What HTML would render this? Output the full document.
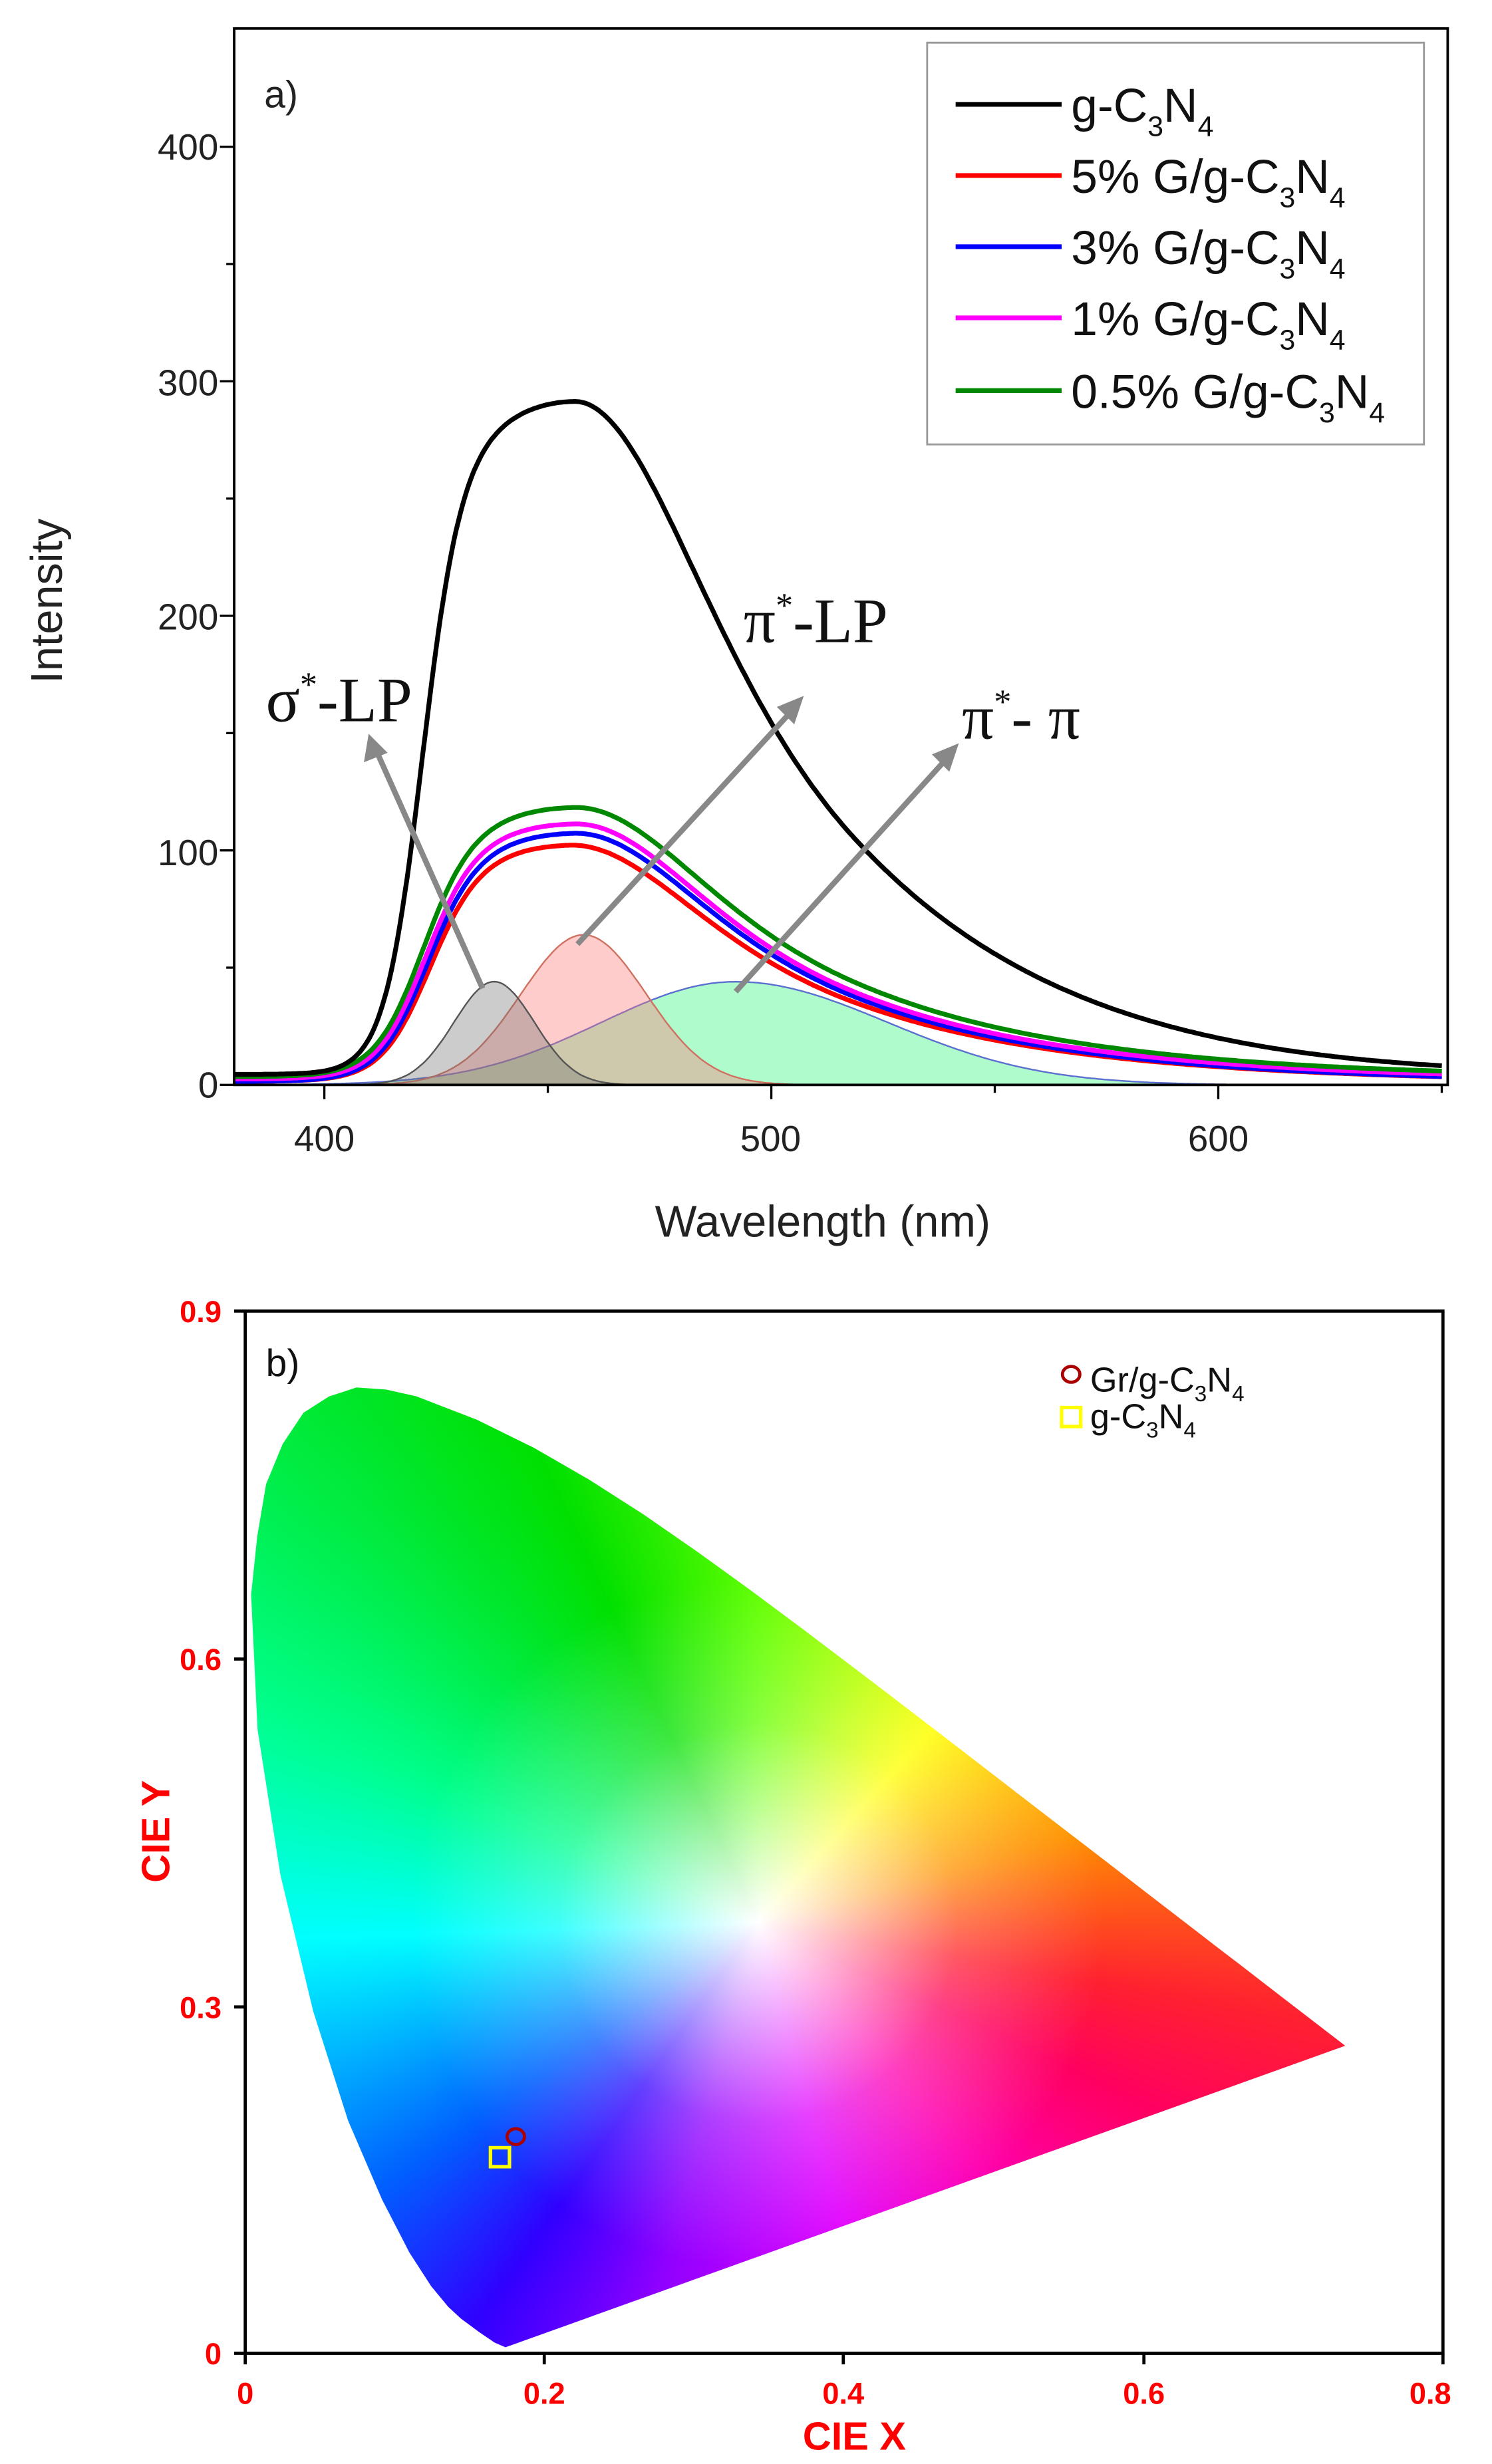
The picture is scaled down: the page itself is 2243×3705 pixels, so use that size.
<!DOCTYPE html>
<html><head><meta charset="utf-8">
<style>
html,body{margin:0;padding:0;background:#fff;}
#wrap{position:relative;width:2243px;height:3705px;overflow:hidden;background:#fff;}
#cie{position:absolute;left:368.7px;top:1971px;width:1800.6px;height:1567px;}
svg{position:absolute;left:0;top:0;}
</style></head>
<body>
<div id="wrap">
<div id="cie"></div>
<svg id="s" width="2243" height="3705" viewBox="0 0 943 1558" preserveAspectRatio="none" font-family="Liberation Sans, sans-serif">
<g id="top"></g>
<rect x="148" y="18" width="767" height="668" fill="none" stroke="#000" stroke-width="1.6"/>
<g id="ticks" stroke="#000" stroke-width="1.4"></g>
<g font-size="23" fill="#222" text-anchor="end">
<text x="138" y="694">0</text>
<text x="138" y="547">100</text>
<text x="138" y="398">200</text>
<text x="138" y="250">300</text>
<text x="138" y="101">400</text>
</g>
<g font-size="23" fill="#222" text-anchor="middle">
<text x="205" y="728">400</text>
<text x="487" y="728">500</text>
<text x="770" y="728">600</text>
</g>
<text x="520" y="782" font-size="28" text-anchor="middle" fill="#222">Wavelength (nm)</text>
<text transform="translate(39,380) rotate(-90)" font-size="28" text-anchor="middle" fill="#222">Intensity</text>
<text x="167" y="68" font-size="24" fill="#222">a)</text>
<rect x="586" y="27" width="314" height="254" fill="#fff" stroke="#999" stroke-width="1.2"/>
<g stroke-width="3">
<line x1="604" y1="66" x2="671" y2="66" stroke="#000"/>
<line x1="604" y1="111" x2="671" y2="111" stroke="#f00"/>
<line x1="604" y1="156" x2="671" y2="156" stroke="#00f"/>
<line x1="604" y1="201" x2="671" y2="201" stroke="#f0f"/>
<line x1="604" y1="247" x2="671" y2="247" stroke="#080"/>
</g>
<g font-size="30" fill="#111">
<text x="677" y="77">g-C<tspan font-size="18" dy="9">3</tspan><tspan dy="-9">N</tspan><tspan font-size="18" dy="9">4</tspan></text>
<text x="677" y="122">5% G/g-C<tspan font-size="18" dy="9">3</tspan><tspan dy="-9">N</tspan><tspan font-size="18" dy="9">4</tspan></text>
<text x="677" y="167">3% G/g-C<tspan font-size="18" dy="9">3</tspan><tspan dy="-9">N</tspan><tspan font-size="18" dy="9">4</tspan></text>
<text x="677" y="212">1% G/g-C<tspan font-size="18" dy="9">3</tspan><tspan dy="-9">N</tspan><tspan font-size="18" dy="9">4</tspan></text>
<text x="677" y="258">0.5% G/g-C<tspan font-size="18" dy="9">3</tspan><tspan dy="-9">N</tspan><tspan font-size="18" dy="9">4</tspan></text>
</g>
<g stroke="#888" stroke-width="3.5" fill="#888">
<line x1="305" y1="625" x2="238" y2="475"/>
<polygon points="233,464 230,482 245,476" stroke="none"/>
<line x1="365" y1="597" x2="500" y2="450"/>
<polygon points="508,440 491,447 502,458" stroke="none"/>
<line x1="465" y1="627" x2="598" y2="480"/>
<polygon points="606,470 589,477 600,488" stroke="none"/>
</g>
<g font-family="Liberation Serif, serif" font-size="40" fill="#111">
<text x="168" y="456">σ<tspan font-size="22" dy="-16">*</tspan><tspan dy="16">-LP</tspan></text>
<text x="470" y="406">π<tspan font-size="22" dy="-16">*</tspan><tspan dy="16">-LP</tspan></text>
<text x="608" y="467">π<tspan font-size="22" dy="-16">*</tspan><tspan dy="16">- π</tspan></text>
</g>

<rect x="155" y="829" width="757" height="659" fill="none" stroke="#000" stroke-width="2"/>
<g stroke="#000" stroke-width="2">
<line x1="148" y1="829" x2="155" y2="829"/><line x1="148" y1="1049" x2="155" y2="1049"/>
<line x1="148" y1="1269" x2="155" y2="1269"/><line x1="148" y1="1488" x2="155" y2="1488"/>
<line x1="155" y1="1488" x2="155" y2="1495"/><line x1="344" y1="1488" x2="344" y2="1495"/>
<line x1="533" y1="1488" x2="533" y2="1495"/><line x1="723" y1="1488" x2="723" y2="1495"/>
<line x1="912" y1="1488" x2="912" y2="1495"/>
</g>
<g font-size="19" font-weight="bold" fill="#f00" text-anchor="end">
<text x="140" y="836">0.9</text><text x="140" y="1056">0.6</text>
<text x="140" y="1276">0.3</text><text x="140" y="1495">0</text>
</g>
<g font-size="19" font-weight="bold" fill="#f00" text-anchor="middle">
<text x="155" y="1520">0</text><text x="344" y="1520">0.2</text>
<text x="533" y="1520">0.4</text><text x="723" y="1520">0.6</text><text x="904" y="1520">0.8</text>
</g>
<text x="540" y="1549" font-size="25" font-weight="bold" fill="#f00" text-anchor="middle">CIE X</text>
<text transform="translate(107,1158) rotate(-90)" font-size="25" font-weight="bold" fill="#f00" text-anchor="middle">CIE Y</text>
<text x="168" y="870" font-size="24" fill="#111">b)</text>
<ellipse cx="326" cy="1351" rx="5.5" ry="5" fill="none" stroke="#a00" stroke-width="2"/>
<rect x="310" y="1358" width="12" height="12" fill="none" stroke="#ff0" stroke-width="2.2"/>
<ellipse cx="677" cy="869" rx="5.5" ry="5" fill="none" stroke="#a00" stroke-width="2"/>
<rect x="671" y="890" width="12" height="12" fill="none" stroke="#ff0" stroke-width="2.2"/>
<g font-size="22" fill="#111">
<text x="689" y="880">Gr/g-C<tspan font-size="14" dy="6">3</tspan><tspan dy="-6">N</tspan><tspan font-size="14" dy="6">4</tspan></text>
<text x="689" y="903">g-C<tspan font-size="14" dy="6">3</tspan><tspan dy="-6">N</tspan><tspan font-size="14" dy="6">4</tspan></text>
</g>
</svg>
</div>
<script>
(function(){
var NS="http://www.w3.org/2000/svg";
function X(w){return 205+(w-400)*2.825;}
function Y(i){return 686-i*1.483;}
function el(tag,attrs,parent){var e=document.createElementNS(NS,tag);for(var k in attrs)e.setAttribute(k,attrs[k]);parent.appendChild(e);return e;}
var top=document.getElementById('top');
function path(f,stroke,sw,fill,close){
  var d="";var w0=380,w1=650;
  for(var w=w0;w<=w1;w+=0.5){var v=f(w);d+=(d?"L":"M")+X(w).toFixed(1)+","+Y(v).toFixed(1);}
  if(close)d+="L"+X(w1)+","+Y(0)+"L"+X(w0)+","+Y(0)+"Z";
  return el('path',{d:d,stroke:stroke,'stroke-width':sw,fill:fill||'none','stroke-linejoin':'round'},top);
}
function g(a,c,s){return function(w){return a*Math.exp(-Math.pow((w-c)/s,2)/2);};}
function g2(a,c,sl,sr){return function(w){var s=w<c?sl:sr;return a*Math.exp(-Math.pow((w-c)/s,2)/2);};}
path(g2(44,492,30,34),'#5a6fd0',1,'rgba(150,250,185,0.75)',true);
path(g(64,458,14),'#d07060',1,'rgba(255,120,120,0.38)',true);
path(g(44,438,9),'#555',1,'rgba(110,110,110,0.35)',true);
function curve(peak,lc,ls,rc,h,base,ts){
  return function(w){
    var L=1/(1+Math.exp(-(w-lc)/ls));
    var R=w<rc?1/(1+Math.pow((w-rc)/100,2)):1/(1+Math.pow((w-rc)/h,2));
    var d=Math.max(0,w-520);
    var T=Math.exp(-d*d/(2*ts*ts));
    return base+peak*L*R*T;
  };
}
path(curve(101,423,5.5,455,45,1.5,95),'#f00',3);
path(curve(106,422.5,5.5,456,45,1.5,95),'#00f',3);
path(curve(109,422,5.5,456,45,2.5,95),'#f0f',3);
path(curve(115,421.5,5.5,456,46,3.5,95),'#080',3);
path(curve(287,421.5,4.3,456,46,4.5,77),'#000',3);
var t=document.getElementById('ticks');
[0,50,100,150,200,250,300,350,400].forEach(function(v){var l=v%100==0?9:5;el('line',{x1:148-l,y1:Y(v),x2:148,y2:Y(v)},t);});
[400,450,500,550,600,650].forEach(function(v){var l=v%100==0?9:5;el('line',{x1:X(v),y1:686,x2:X(v),y2:686+l},t);});
var loc=[[0.1741,0.0050],[0.1738,0.0049],[0.1666,0.0089],[0.1566,0.0177],[0.1440,0.0297],[0.1355,0.0399],[0.1241,0.0578],[0.1096,0.0868],[0.0913,0.1327],[0.0687,0.2007],[0.0454,0.2950],[0.0235,0.4127],[0.0082,0.5384],[0.0039,0.6548],[0.0080,0.7050],[0.0139,0.7502],[0.0250,0.7850],[0.0389,0.8120],[0.0560,0.8260],[0.0743,0.8338],[0.0940,0.8320],[0.1142,0.8262],[0.1547,0.8059],[0.1929,0.7816],[0.2296,0.7543],[0.2658,0.7243],[0.3016,0.6923],[0.3373,0.6589],[0.3731,0.6245],[0.4087,0.5896],[0.4441,0.5547],[0.4788,0.5202],[0.5125,0.4866],[0.5448,0.4544],[0.5752,0.4242],[0.6029,0.3965],[0.6270,0.3725],[0.6482,0.3514],[0.6658,0.3340],[0.6915,0.3083],[0.7079,0.2920],[0.7190,0.2809],[0.7347,0.2653]];
var H=1567,sx=2250.8;
var pts=loc.map(function(p){return (p[0]*sx).toFixed(1)+"px "+((0.9-p[1])/0.9*H).toFixed(1)+"px";});
var c=document.getElementById('cie');
c.style.clipPath="polygon("+pts.join(",")+")";
var wx=770,wy=920;
c.style.background="radial-gradient(circle at "+wx+"px "+wy+"px, rgba(255,255,255,1) 0px, rgba(255,255,255,0.7) 120px, rgba(255,255,255,0.25) 300px, rgba(255,255,255,0) 520px), conic-gradient(from 0deg at "+wx+"px "+wy+"px, #60ff00 0deg, #c0ff00 25deg, #ffff00 42deg, #ff9000 75deg, #ff2030 100deg, #ff0060 115deg, #ff00b0 138deg, #e000ff 165deg, #9000ff 195deg, #3000ff 215deg, #0060ff 235deg, #00c0ff 255deg, #00ffff 268deg, #00ff90 292deg, #00e830 320deg, #00e000 335deg, #60ff00 360deg)";
})();
</script>
</body></html>
